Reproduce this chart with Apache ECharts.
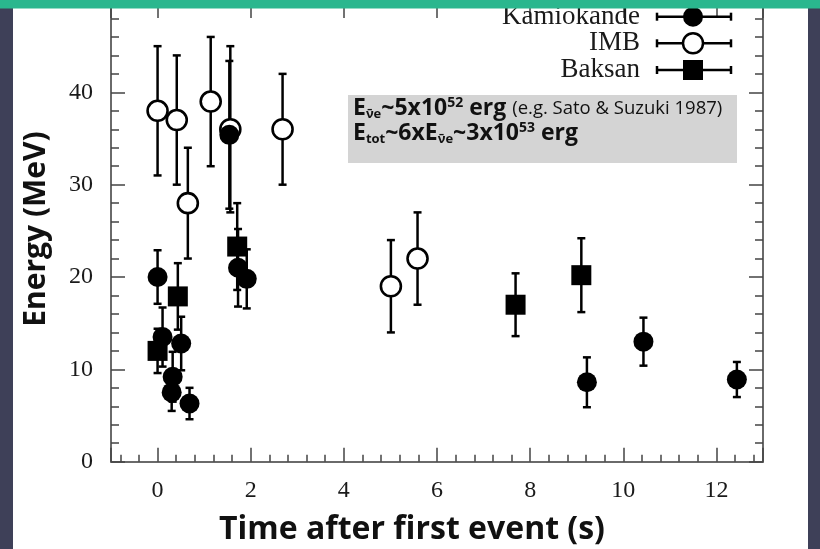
<!DOCTYPE html>
<html><head><meta charset="utf-8">
<script src="https://cdn.jsdelivr.net/npm/echarts@6/dist/echarts.min.js"></script>
<style>html,body{margin:0;padding:0;background:#fff;}#c{width:820px;height:549px;}</style>
</head><body><div id="c"></div>
<script>
// ---- data ----
const kamTime   = [0, 0.107, 0.303, 0.324, 0.507, 0.686, 1.541, 1.728, 1.915, 9.219, 10.433, 12.439];
const kamEnergy = [20.0, 13.5, 7.5, 9.2, 12.8, 6.3, 35.4, 21.0, 19.8, 8.6, 13.0, 8.9];
const kamErr    = [2.9, 3.2, 2.0, 2.7, 2.9, 1.7, 8.0, 4.2, 3.2, 2.7, 2.6, 1.9];

const imbTime   = [0, 0.412, 0.650, 1.141, 1.562, 2.684, 5.010, 5.582];
const imbEnergy = [38, 37, 28, 39, 36, 36, 19, 22];
const imbErr    = [7, 7, 6, 7, 9, 6, 5, 5];

const bakTime   = [0, 0.435, 1.710, 7.687, 9.099];
const bakEnergy = [12.0, 17.9, 23.3, 17.0, 20.2];
const bakErr    = [2.4, 3.6, 4.7, 3.4, 4.0];

const seriesNames = ['Kamiokande', 'IMB', 'Baksan'];
const xTickLabels = ['0', '2', '4', '6', '8', '10', '12'];
const yTickLabels = ['0', '10', '20', '30', '40'];
const xTitle = 'Time after first event (s)';
const yTitle = 'Energy (MeV)';

// ---- helpers ----
const zip = (t, e, s) => t.map((v, i) => [v, e[i], s[i]]);
const kamData = zip(kamTime, kamEnergy, kamErr);
const imbData = zip(imbTime, imbEnergy, imbErr);
const bakData = zip(bakTime, bakEnergy, bakErr);

function errRender(params, api) {
  const x = api.value(0), y = api.value(1), e = api.value(2);
  const top = api.coord([x, y + e]);
  const bot = api.coord([x, y - e]);
  const cap = 4;
  const st = {stroke: '#000', lineWidth: 2.5};
  return {type: 'group', children: [
    {type: 'line', shape: {x1: top[0], y1: top[1], x2: bot[0], y2: bot[1]}, style: st},
    {type: 'line', shape: {x1: top[0] - cap, y1: top[1], x2: top[0] + cap, y2: top[1]}, style: st},
    {type: 'line', shape: {x1: bot[0] - cap, y1: bot[1], x2: bot[0] + cap, y2: bot[1]}, style: st}
  ]};
}
function errSeries(data) {
  return {type: 'custom', renderItem: errRender, data: data, encode: {x: 0, y: 1}, z: 2, silent: true};
}

const axisLineStyle = {color: '#6a6a6a', width: 2};
const tickStyle = {color: '#444', width: 1.5};
const serif = 'Liberation Serif';
const sans = 'Open Sans';

function xAxisCfg(pos, showLabel, tickLen) {
  return {
    type: 'value', position: pos, min: -1, max: 13, splitNumber: 7,
    axisLine: {show: true, onZero: false, lineStyle: axisLineStyle},
    axisTick: {show: true, inside: true, length: tickLen, lineStyle: tickStyle},
    minorTick: {show: true, splitNumber: 5, length: 7, lineStyle: tickStyle},
    splitLine: {show: false},
    axisLabel: {show: showLabel, showMinLabel: false, showMaxLabel: false, margin: 17,
      fontFamily: serif, fontSize: 24, color: '#1a1a1a',
      formatter: v => xTickLabels.includes(String(v)) ? String(v) : ''}
  };
}
function yAxisCfg(pos, showLabel) {
  return {
    type: 'value', position: pos, min: 0, max: 50, interval: 10,
    axisLine: {show: true, onZero: false, lineStyle: axisLineStyle},
    axisTick: {show: true, inside: true, length: 14, lineStyle: tickStyle},
    minorTick: {show: true, splitNumber: 5, length: 8, lineStyle: tickStyle},
    splitLine: {show: false},
    axisLabel: {show: showLabel, showMaxLabel: false, margin: 18,
      fontFamily: serif, fontSize: 24, color: '#1a1a1a',
      formatter: v => yTickLabels.includes(String(v)) ? String(v) : ''}
  };
}

// legend graphic
const legendRows = [
  {name: seriesNames[0], y: 16.7, kind: 'filled'},
  {name: seriesNames[1], y: 43.3, kind: 'open'},
  {name: seriesNames[2], y: 70, kind: 'square'}
];
const legendEls = [];
legendRows.forEach(r => {
  legendEls.push({type: 'text', x: 640, y: r.y, z: 50,
    style: {text: r.name, fontFamily: serif, fontSize: 27, fill: '#1a1a1a', align: 'right', verticalAlign: 'middle'}});
  const st = {stroke: '#000', lineWidth: 2.5};
  legendEls.push({type: 'line', z: 50, shape: {x1: 657, y1: r.y, x2: 731, y2: r.y}, style: st});
  legendEls.push({type: 'line', z: 50, shape: {x1: 657, y1: r.y - 4, x2: 657, y2: r.y + 4}, style: st});
  legendEls.push({type: 'line', z: 50, shape: {x1: 731, y1: r.y - 4, x2: 731, y2: r.y + 4}, style: st});
  if (r.kind === 'filled') legendEls.push({type: 'circle', z: 51, shape: {cx: 693, cy: r.y, r: 10}, style: {fill: '#000'}});
  if (r.kind === 'open') legendEls.push({type: 'circle', z: 51, shape: {cx: 693, cy: r.y, r: 10}, style: {fill: '#fff', stroke: '#000', lineWidth: 2.5}});
  if (r.kind === 'square') legendEls.push({type: 'rect', z: 51, shape: {x: 683, y: r.y - 10, width: 20, height: 20}, style: {fill: '#000'}});
});

const richStyles = {
  b:   {fontFamily: sans, fontWeight: 'bold', fontSize: 23, lineHeight: 25, fill: '#111'},
  sub: {fontFamily: sans, fontWeight: 'bold', fontSize: 13, lineHeight: 12, verticalAlign: 'bottom', fill: '#111'},
  sup: {fontFamily: sans, fontWeight: 'bold', fontSize: 14, lineHeight: 20, verticalAlign: 'top', fill: '#111'},
  n:   {fontFamily: sans, fontWeight: 'normal', fontSize: 18.5, lineHeight: 25, fill: '#111'}
};

const option = {
  backgroundColor: '#fff',
  animation: false,
  grid: {left: 111, right: 57, top: -4.6, bottom: 87.3, containLabel: false},
  xAxis: [xAxisCfg('bottom', true, 14), xAxisCfg('top', false, 18)],
  yAxis: [yAxisCfg('left', true), yAxisCfg('right', false)],
  series: [
    errSeries(imbData), errSeries(bakData), errSeries(kamData),
    {name: seriesNames[1], type: 'scatter', data: imbData, encode: {x: 0, y: 1}, symbol: 'circle', symbolSize: 20,
      itemStyle: {color: '#fff', borderColor: '#000', borderWidth: 2.6, opacity: 1}, z: 3},
    {name: seriesNames[2], type: 'scatter', data: bakData, encode: {x: 0, y: 1}, symbol: 'rect', symbolSize: 20,
      itemStyle: {color: '#000', opacity: 1}, z: 4},
    {name: seriesNames[0], type: 'scatter', data: kamData, encode: {x: 0, y: 1}, symbol: 'circle', symbolSize: 20,
      itemStyle: {color: '#000', opacity: 1}, z: 5}
  ],
  graphic: [
    {type: 'rect', z: 40, shape: {x: 348, y: 95, width: 389, height: 68}, style: {fill: '#d4d4d4'}},
    {type: 'text', z: 41, x: 353, y: 96,
      style: {
        text: '{b|E}{sub|ν̄e}{b|~5x10}{sup|52}{b| erg }{n|(e.g. Sato & Suzuki 1987)}\n{b|E}{sub|tot}{b|~6xE}{sub|ν̄e}{b|~3x10}{sup|53}{b| erg}',
        rich: richStyles
      }},
    {type: 'text', z: 41, x: 412, y: 530,
      style: {text: xTitle, fontFamily: sans, fontWeight: 'bold', fontSize: 32, fill: '#111', align: 'center', verticalAlign: 'middle'}},
    {type: 'text', z: 41, x: 36, y: 229, rotation: Math.PI / 2,
      style: {text: yTitle, fontFamily: sans, fontWeight: 'bold', fontSize: 30, fill: '#111', align: 'center', verticalAlign: 'middle'}},
    ...legendEls,
    {type: 'rect', z: 100, shape: {x: 0, y: 0, width: 13, height: 549}, style: {fill: '#3e4058'}},
    {type: 'rect', z: 100, shape: {x: 808, y: 0, width: 12, height: 549}, style: {fill: '#3e4058'}},
    {type: 'rect', z: 101, shape: {x: 0, y: 0, width: 820, height: 8.5}, style: {fill: '#2ab78e'}}
  ]
};

const chart = echarts.init(document.getElementById('c'), null, {renderer: 'canvas'});
chart.setOption(option);
</script>
</body></html>
